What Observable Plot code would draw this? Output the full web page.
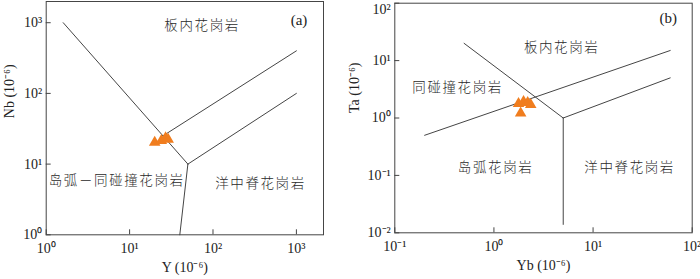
<!DOCTYPE html>
<html>
<head>
<meta charset="utf-8">
<script src="https://cdn.jsdelivr.net/npm/d3@7"></script>
<script src="https://cdn.jsdelivr.net/npm/@observablehq/plot@0.6"></script>
<style>
  html, body { margin: 0; padding: 0; background: #fff; }
  #wrap { display: flex; width: 700px; height: 279px; }
  svg { display: block; }
</style>
</head>
<body>
<div id="wrap"></div>
<script>
// ---------- data: panel (a) Nb–Y ----------
const aYvals = [20, 24, 27, 29];
const aNbvals = [20.2, 21.5, 23.4, 22.3];
const aXTicks = [1, 10, 100, 1000];
const aYTicks = [1, 10, 100, 1000];
const aXTickLabels = ["10⁰", "10¹", "10²", "10³"];
const aYTickLabels = ["10⁰", "10¹", "10²", "10³"];
const aBound1 = [[1.6, 1000], [50, 10]];
const aBound2 = [[50, 10], [40, 1]];
const aBound3 = [[50, 10], [1000, 100]];
const aBound4 = [[25, 25], [1000, 400]];
const aFieldNames = ["板内花岗岩", "岛弧－同碰撞花岗岩", "洋中脊花岗岩"];
const aFieldX = [74, 7.0, 371];
const aFieldY = [912, 5.86, 5.3];
const aTag = "(a)", aTagX = 1075, aTagY = 1070;

// ---------- data: panel (b) Ta–Yb ----------
const bYbvals = [1.86, 1.77, 1.99, 2.19, 2.35];
const bTavals = [1.21, 1.78, 1.92, 1.85, 1.71];
const bXTicks = [0.1, 1, 10, 100];
const bYTicks = [0.01, 0.1, 1, 10, 100];
const bXTickLabels = ["10⁻¹", "10⁰", "10¹", "10²"];
const bYTickLabels = ["10⁻²", "10⁻¹", "10⁰", "10¹", "10²"];
const bBound1 = [[0.5, 20], [5, 1]];
const bBound2 = [[5, 1], [5, 0.014]];
const bBound3 = [[5, 1], [60, 5]];
const bBound4 = [[0.2, 0.5], [60, 15]];
const bFieldNames = ["板内花岗岩", "同碰撞花岗岩", "岛弧花岗岩", "洋中脊花岗岩"];
const bFieldX = [4.82, 0.43, 1.04, 23.4];
const bFieldY = [17.1, 3.38, 0.136, 0.136];
const bTag = "(b)", bTagX = 57.3, bTagY = 54;

const LINE = "#454545";
const ORANGE = "#f07d1e";
const SERIF = "'Liberation Serif', 'Times New Roman', serif";
const CJK = "'Noto Sans CJK SC', sans-serif";

function panel(o) {
  const fields = o.names.map((n, i) => ({n, x: o.fx[i], y: o.fy[i]}));
  const pts = o.px.map((x, i) => ({x, y: o.py[i]}));
  const xl = new Map(o.xTicks.map((t, i) => [t, o.xTickLabels[i]]));
  const yl = new Map(o.yTicks.map((t, i) => [t, o.yTickLabels[i]]));
  const yTop = o.yTicks[o.yTicks.length - 1];
  const yAxisTicks = o.topShift ? o.yTicks.slice(0, -1) : o.yTicks;
  const chart = Plot.plot({
    width: 350, height: 279,
    marginLeft: o.ml, marginRight: o.mr, marginTop: o.mt, marginBottom: o.mb,
    style: {fontFamily: SERIF, background: "#fff", overflow: "visible"},
    x: {type: "log", domain: o.xDomain, axis: null},
    y: {type: "log", domain: o.yDomain, axis: null},
    marks: [
      Plot.frame({stroke: LINE, strokeWidth: 1}),
      // inward ticks
      Plot.axisX({ticks: o.xTicks, tickSize: 5, dy: -5, tickFormat: () => "", label: null, stroke: LINE}),
      Plot.axisY({ticks: o.yTicks, tickSize: 5, dx: 5, tickFormat: () => "", label: null, stroke: LINE}),
      // tick labels
      Plot.axisX({ticks: o.xTicks, tickSize: 0, tickPadding: 8, tickFormat: d => xl.get(d), label: null, fontSize: 14, fill: "#222", fontFamily: SERIF}),
      Plot.axisY({ticks: yAxisTicks, tickSize: 0, tickPadding: 4, tickFormat: d => yl.get(d), label: null, fontSize: 14, fill: "#222", fontFamily: SERIF}),
      o.topShift ? Plot.text([yTop], {y: d => d, frameAnchor: "left", dx: -4, dy: o.topShift, text: d => yl.get(d), textAnchor: "end", fontSize: 14, fill: "#222", fontFamily: SERIF}) : null,
      // boundary lines
      ...o.bounds.map(b => Plot.line(b, {x: d => d[0], y: d => d[1], stroke: LINE, strokeWidth: 1})),
      // field names
      Plot.text(fields, {x: "x", y: "y", text: "n", fontSize: 13.5, fontFamily: CJK, fontWeight: 300,
        fill: "#2a2a2a", textAnchor: "middle"}),
      Plot.text([o.tag], {x: () => o.tagX, y: () => o.tagY, fontSize: 15, fontFamily: SERIF, fill: "#222"}),
      // samples
      Plot.dot(pts, {x: "x", y: "y", symbol: "triangle", r: 4.3, fill: ORANGE, stroke: "none"}),
      // axis titles
      Plot.text([o.xLabel], {frameAnchor: "bottom", dy: 37, fontSize: 14, fill: "#222", fontFamily: SERIF}),
      Plot.text([o.yLabel], {frameAnchor: "left", dx: o.ylDx, dy: o.ylDy, rotate: -90, fontSize: 14, fill: "#222", fontFamily: SERIF})
    ]
  });
  d3.select(chart).selectAll("g[font-family*='Noto'] text").attr("letter-spacing", 1.6);
  return chart;
}

const wrap = document.getElementById("wrap");
const chartA = panel({
  ml: 45.7, mr: 27, mt: 1, mb: 44.7,
  xDomain: [1, Math.pow(10, 3.325)], yDomain: [1, Math.pow(10, 3.30)],
  xTicks: aXTicks, yTicks: aYTicks, xTickLabels: aXTickLabels, yTickLabels: aYTickLabels,
  bounds: [aBound1, aBound2, aBound3, aBound4],
  names: aFieldNames, fx: aFieldX, fy: aFieldY,
  tag: aTag, tagX: aTagX, tagY: aTagY,
  px: aYvals, py: aNbvals,
  xLabel: "Y (10⁻⁶)", yLabel: "Nb (10⁻⁶)", ylDx: -37, ylDy: 0, topShift: 0
});
const chartB = panel({
  ml: 44.3, mr: 8.3, mt: 2.7, mb: 46.7,
  xDomain: [0.1, 100], yDomain: [0.01, 100],
  xTicks: bXTicks, yTicks: bYTicks, xTickLabels: bXTickLabels, yTickLabels: bYTickLabels,
  bounds: [bBound1, bBound2, bBound3, bBound4],
  names: bFieldNames, fx: bFieldX, fy: bFieldY,
  tag: bTag, tagX: bTagX, tagY: bTagY,
  px: bYbvals, py: bTavals,
  xLabel: "Yb (10⁻⁶)", yLabel: "Ta (10⁻⁶)", ylDx: -40, ylDy: -5, topShift: 6
});
wrap.appendChild(chartA);
wrap.appendChild(chartB);
</script>
</body>
</html>
